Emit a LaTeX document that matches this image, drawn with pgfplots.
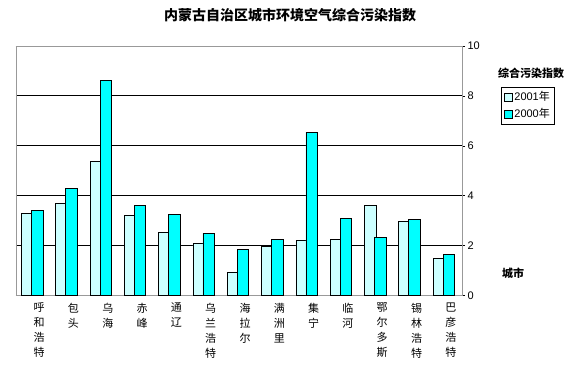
\documentclass[border=0pt]{standalone}
\usepackage{fontspec}
\setmainfont{Liberation Sans}
\newfontfamily\cjk{Noto Sans CJK SC}
\usepackage{pgfplots}
\usepackage{pgfplotstable}
\pgfplotsset{compat=1.18}
\definecolor{c2001}{HTML}{CCFFFF}
\definecolor{c2000}{HTML}{00FFFF}
\pgfplotstableread{
x a b
0 3.28 3.41
1 3.67 4.28
2 5.39 8.61
3 3.19 3.59
4 2.51 3.23
5 2.07 2.48
6 0.93 1.83
7 1.96 2.25
8 2.19 6.55
9 2.25 3.07
10 3.59 2.32
11 2.97 3.03
12 1.49 1.64
}\data
\begin{document}
\begin{tikzpicture}[x=1pt,y=1pt]
\path[use as bounding box] (0,0) rectangle (581,367);
\node[font=\cjk\bfseries\fontsize{14}{16}\selectfont] at (290,352) {内蒙古自治区城市环境空气综合污染指数};
\begin{axis}[
  at={(16pt,71.7pt)}, anchor=south west,
  width=446pt, height=249.3pt, scale only axis,
  ymin=0, ymax=10, ytick={0,2,4,6,8,10},
  xmin=-0.5, xmax=12.5,
  xtick=data,
  xticklabels={{呼\\和\\浩\\特},{包\\头},{乌\\海},{赤\\峰},{通\\辽},{乌\\兰\\浩\\特},{海\\拉\\尔},{满\\洲\\里},{集\\宁},{临\\河},{鄂\\尔\\多\\斯},{锡\\林\\浩\\特},{巴\\彦\\浩\\特}},
  xticklabel style={align=center, font=\cjk\fontsize{11}{15}\selectfont, xshift=6pt, anchor=north, yshift=-1pt},
  x tick style={draw=none},
  ytick pos=right,
  yticklabel pos=right,
  yticklabel style={font=\fontsize{11}{13}\selectfont, xshift=-1pt},
  /pgf/number format/assume math mode=true,
  y tick style={black},
  tick align=outside,
  major tick length=3pt,
  ymajorgrids,
  major grid style={black, line width=0.9pt},
  axis line style={gray!80},
  legend style={at={(1.0874,0.8355)}, anchor=north west, draw=black, font=\fontsize{11}{13}\selectfont, row sep=2pt, inner sep=2.5pt},
  legend cell align=left,
  legend image code/.code={\draw[#1, draw=black] (0pt,-4pt) rectangle (8pt,4pt);},
]
\addplot[ybar, bar width=11.5pt, bar shift=-6pt, fill=c2001, draw=black, line width=0.7pt] table[x=x, y=a] {\data};
\addlegendentry{2001{\cjk 年}}
\addplot[ybar, bar width=11.5pt, bar shift=4pt, fill=c2000, draw=black, line width=0.7pt] table[x=x, y=b] {\data};
\addlegendentry{2000{\cjk 年}}
\end{axis}
\node[font=\cjk\bfseries\fontsize{11}{13}\selectfont] at (531,294) {综合污染指数};
\node[font=\cjk\bfseries\fontsize{11}{13}\selectfont] at (513,94) {城市};
\end{tikzpicture}
\end{document}
